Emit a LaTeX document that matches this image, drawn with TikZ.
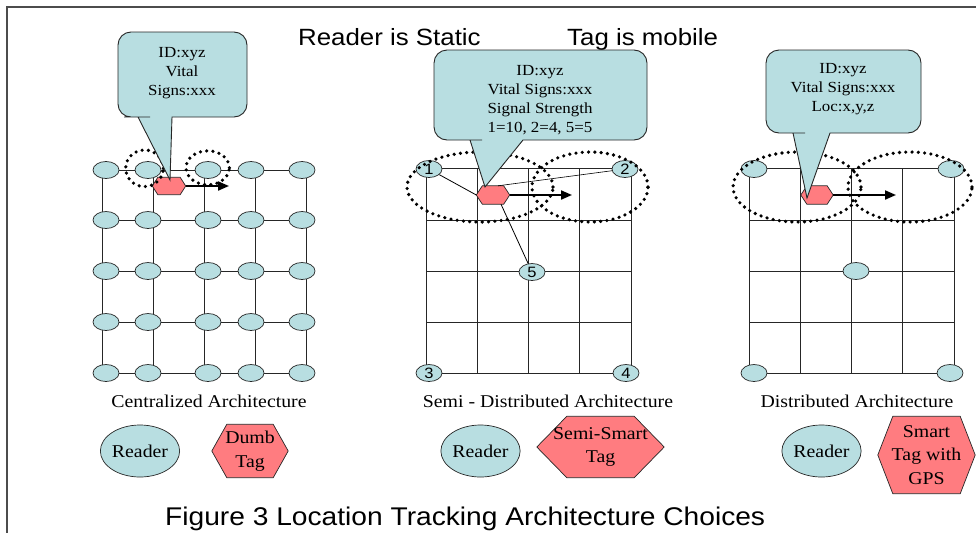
\documentclass[tikz,border=0pt]{standalone}
\usepackage{fontspec}
\setmainfont{Liberation Serif}[FakeStretch=1.1]
\setsansfont{Liberation Sans}[FakeStretch=1.1]
\usetikzlibrary{shapes.geometric,arrows.meta,backgrounds}
\definecolor{rdr}{RGB}{184,222,225}
\definecolor{tagc}{RGB}{255,124,128}
\newcommand{\hexdraw}[2]{\draw[hexline] (#1.west) -- ([xshift=#2pt]#1.north west) -- ([xshift=-#2pt]#1.north east) -- (#1.east) -- ([xshift=-#2pt]#1.south east) -- ([xshift=#2pt]#1.south west) -- cycle;}
% L, T, R, B, x1, x2, tipx, tipy
\newcommand{\callout}[8]{\path[callstyle] ({(#1+#3)/2},#2) [rounded corners=13pt] -- (#1,#2) -- (#1,#4) -- ({#5-1},#4) [sharp corners] -- (#5,#4) -- (#7,#8) -- (#6,#4) -- ({#6+1},#4) [rounded corners=13pt] -- (#3,#4) -- (#3,#2) -- cycle;}
\tikzset{
  reader/.style={ellipse, draw=black!85, line width=0.7pt, fill=rdr, inner sep=0pt,
    minimum width=26pt, minimum height=17pt, font=\sffamily\fontsize{15}{15}\selectfont},
  legreader/.style={reader, minimum width=77pt, minimum height=52pt, font=\fontsize{18}{22}\selectfont},
  tagbox/.style={inner sep=0pt, align=center, font=\fontsize{18}{23.5}\selectfont},
  hexline/.style={draw=black!85, line width=0.7pt, fill=tagc},
  gridline/.style={draw=black!85, line width=0.9pt},
  thinline/.style={draw=black, line width=0.8pt},
  dotring/.style={draw=black, line width=3.6pt, line cap=round, dash pattern=on 0pt off 6.3pt},
  mvarrow/.style={draw=black, line width=2pt, -{Triangle[length=11pt,width=9pt]}},
  callstyle/.style={draw=black!85, line width=0.9pt, fill=rdr},
  calltext/.style={align=center, inner sep=0pt, font=\fontsize{15.4}{19}\selectfont},
  archlabel/.style={anchor=base, inner sep=0pt, font=\fontsize{18}{22}\selectfont},
  headtext/.style={anchor=base west, inner sep=0pt, font=\sffamily\fontsize{23.5}{28}\selectfont},
  frame/.style={draw=black!70, line width=1.3pt}
}
\begin{document}
\begin{tikzpicture}[x=1pt,y=-1pt]
\useasboundingbox (0,0) rectangle (976,533);
\draw[frame] (976,7) -- (7,7) -- (7,533);

% headings
\node[headtext] (hs) at (298,45) {Reader is Static};
\node[headtext] (hm) at (567,45) {Tag is mobile};

% ================= Left: centralized =================
\foreach \r [count=\i] in {170,220,271,322,373} {
  \foreach \c [count=\j] in {106,148,208,251,302} {
    \node[reader] (L-\i-\j) at (\c,\r) {};
  }
}
\begin{pgfonlayer}{background}
  \foreach \i in {1,...,5} \draw[gridline] (L-\i-1) -- (L-\i-5);
  \foreach \c in {102,153,204,255,306} \draw[gridline] (\c,170) -- (\c,373);
\end{pgfonlayer}
\node[inner sep=0pt, minimum width=33pt, minimum height=17pt] (ltag) at (169,186) {};
\hexdraw{ltag}{5.5}
\draw[dotring] (144.5,168.3) ellipse [x radius=18.8pt, y radius=18.3pt];
\draw[dotring] (207.7,167.8) ellipse [x radius=21.7pt, y radius=17pt];
\coordinate (lend) at (229,186);
\draw[mvarrow] (ltag.east) -- (lend);
\callout{118}{32}{247}{117}{138}{172}{170}{180}
\node[calltext] (lcall) at (182,73) {ID:xyz\\Vital\\Signs:xxx};
\node[archlabel] (lab1) at (209,407) {Centralized Architecture};

% ================= Middle: semi-distributed =================
\begin{pgfonlayer}{background}
  \foreach \c in {426,477.25,528.5,579.75,631} \draw[gridline] (\c,168) -- (\c,373);
  \foreach \r in {168,220,271,322,373} \draw[gridline] (426,\r) -- (631,\r);
\end{pgfonlayer}
\node[reader] (m1) at (429,169) {1};
\node[reader] (m2) at (625,169) {2};
\node[reader] (m3) at (429,373) {3};
\node[reader] (m4) at (626,373) {4};
\node[reader] (m5) at (532,272) {5};
\node[inner sep=0pt, minimum width=33pt, minimum height=18pt] (mtag) at (493,195) {};
\hexdraw{mtag}{6}
\draw[thinline] (m1) -- (mtag.west);
\draw[thinline, line width=0.6pt] ([xshift=5pt]mtag.north) -- (m2);
\draw[thinline] ([xshift=8pt]mtag.south) -- (m5);
\draw[dotring] (480,187) ellipse [x radius=73pt, y radius=35pt];
\draw[dotring] (590,187) ellipse [x radius=58pt, y radius=35pt];
\coordinate (mend) at (572,195);
\draw[mvarrow] (mtag.east) -- (mend);
\callout{434}{50}{647}{140}{470}{523}{485}{187}
\node[calltext] (mcall) at (540,100.5) {ID:xyz\\Vital Signs:xxx\\Signal Strength\\1=10, 2=4, 5=5};
\node[archlabel] (lab2) at (548,407) {Semi - Distributed Architecture};

% ================= Right: distributed =================
\begin{pgfonlayer}{background}
  \foreach \c in {749,800.25,851.5,902.75,954} \draw[gridline] (\c,168) -- (\c,373);
  \foreach \r in {168,220,271,322,373} \draw[gridline] (749,\r) -- (954,\r);
\end{pgfonlayer}
\node[reader] (d1) at (754,169) {};
\node[reader] (d2) at (951,169) {};
\node[reader] (d3) at (856,271) {};
\node[reader] (d4) at (754,373) {};
\node[reader] (d5) at (950,373) {};
\node[inner sep=0pt, minimum width=32pt, minimum height=18pt] (rtag) at (817,195) {};
\hexdraw{rtag}{6}
\draw[dotring] (797,187) ellipse [x radius=64pt, y radius=35pt];
\draw[dotring] (910,187) ellipse [x radius=62pt, y radius=35pt];
\coordinate (rend) at (896,195);
\draw[mvarrow] (rtag.east) -- (rend);
\callout{766}{50}{921}{133}{793}{830}{807}{198}
\node[calltext] (rcall) at (843,89) {ID:xyz\\Vital Signs:xxx\\Loc:x,y,z};
\node[archlabel] (lab3) at (857,407) {Distributed Architecture};

% ================= Legends =================
\node[legreader] (lr1) at (140,451) {Reader};
\node[tagbox, minimum width=76pt, minimum height=53pt] (lt1) at (250,451) {Dumb\\Tag};
\node[legreader] (lr2) at (480.5,451) {Reader};
\node[tagbox, minimum width=127pt, minimum height=61pt] (lt2) at (600.5,447) {Semi-Smart\\Tag};
\node[legreader] (lr3) at (821.5,451) {Reader};
\node[tagbox, minimum width=97pt, minimum height=77pt] (lt3) at (926.5,455) {Smart\\Tag with\\GPS};
\begin{pgfonlayer}{background}
  \hexdraw{lt1}{15}
  \hexdraw{lt2}{30}
  \hexdraw{lt3}{15}
\end{pgfonlayer}

% caption
\node[anchor=base west, inner sep=0pt, font=\sffamily\fontsize{25.6}{30}\selectfont] (cap) at (165,525) {Figure 3 Location Tracking Architecture Choices};
\end{tikzpicture}
\end{document}
